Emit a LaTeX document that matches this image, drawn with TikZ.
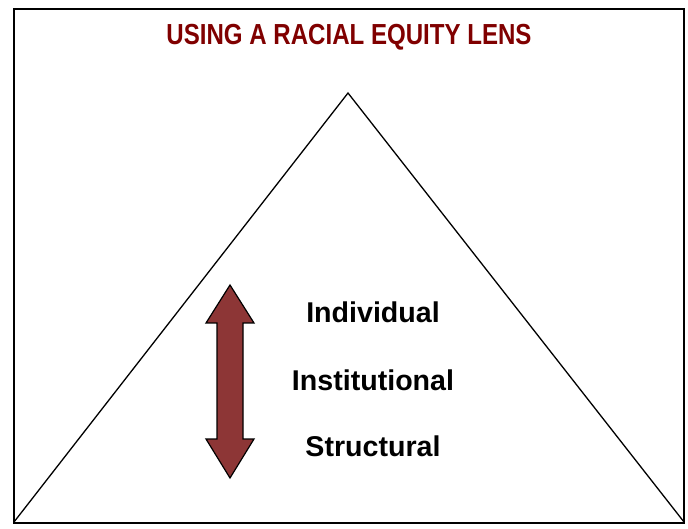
\documentclass[tikz,border=0pt]{standalone}
\usepackage{fontspec}
\setmainfont{Liberation Sans}
\definecolor{titlered}{RGB}{128,0,0}
\definecolor{arrowred}{RGB}{141,54,54}
\tikzset{
  level/.style={font=\fontsize{28.6}{32}\selectfont\bfseries, anchor=center},
  lens/.style={line width=1.3pt}
}
\begin{document}
\begin{tikzpicture}[x=1pt,y=-1pt]
\useasboundingbox (0,0) rectangle (688,529);
\draw[lens] (14,9) rectangle (684,523);
\node[font=\fontsize{29}{33}\selectfont\bfseries, text=titlered] (title) at (349,37) {\scalebox{0.83}[1]{USING A RACIAL EQUITY LENS}};
\coordinate (apex) at (348,93);
\coordinate (left) at (14,522);
\coordinate (right) at (684,522);
\draw[lens, line join=miter] (left) -- (apex) -- (right);
\draw[line width=1.2pt, fill=arrowred, line join=miter] (230,285) -- (254,323) -- (243,323) -- (243,439) -- (254,439) -- (230,478) -- (206,439) -- (217,439) -- (217,323) -- (206,323) -- cycle;
\node[level] (indiv) at (373,312) {Individual};
\node[level] (inst) at (373,380) {Institutional};
\node[level] (struct) at (373,446) {Structural};
\end{tikzpicture}
\end{document}
